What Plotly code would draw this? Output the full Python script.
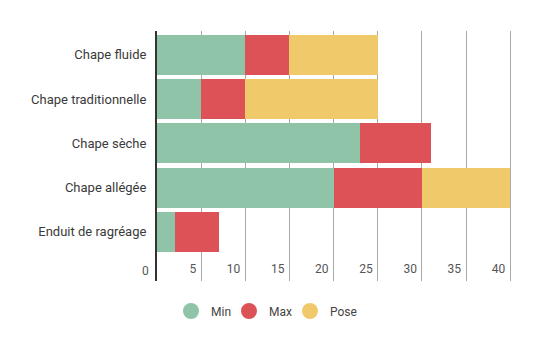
import plotly.graph_objects as go

categories = ["Enduit de ragréage", "Chape allégée", "Chape sèche", "Chape traditionnelle", "Chape fluide"]
min_vals = [2, 20, 23, 5, 10]
max_vals = [5, 10, 8, 5, 5]
pose_vals = [0, 10, 0, 15, 10]
series_names = ["Min", "Max", "Pose"]
colors = ["#8FC4A8", "#DD5257", "#F0CA6A"]
x_ticks = [0, 5, 10, 15, 20, 25, 30, 35, 40]

legend_ids = ["legend", "legend2", "legend3"]
legend_x = [0.0394, 0.2028, 0.3746]

fig = go.Figure()
for name, vals, col in zip(series_names, [min_vals, max_vals, pose_vals], colors):
    fig.add_trace(go.Bar(y=list(range(len(categories))), x=vals, orientation="h", name=name,
                         marker=dict(color=col, line=dict(width=0)), showlegend=False,
                         hoverinfo="x+name"))
for name, col, lg in zip(series_names, colors, legend_ids):
    fig.add_trace(go.Scatter(x=[None], y=[None], mode="markers", name=name, legend=lg,
                             marker=dict(color=col, size=16, symbol="circle")))

# "0" label sits left of the axis line (inside tick labels at the edge get clipped)
fig.add_annotation(x=x_ticks[0], y=0, xref="x", yref="paper", text=str(x_ticks[0]),
                   showarrow=False, xanchor="right", yanchor="bottom", xshift=-6, yshift=1,
                   font=dict(size=12, color="#555"))

legend_common = dict(orientation="h", xanchor="left", y=-0.12, yanchor="middle",
                     bgcolor="rgba(0,0,0,0)",
                     font=dict(size=12, color="#444"), itemwidth=30)
layout_legends = {lg: dict(x=lx, **legend_common) for lg, lx in zip(legend_ids, legend_x)}

fig.update_layout(
    width=550, height=341,
    margin=dict(l=157, r=38, t=31, b=60),
    barmode="stack", bargap=0.1,
    plot_bgcolor="white", paper_bgcolor="white",
    font=dict(family="Roboto", size=12, color="#444"),
    xaxis=dict(range=[0, 40.2], tickvals=x_ticks[1:], ticktext=[str(v) for v in x_ticks[1:]],
               showgrid=True, gridcolor="#aaaaaa", gridwidth=1, zeroline=False,
               ticklabelposition="inside left", ticklabelshift=-5, ticks="", showline=False,
               tickfont=dict(size=12, color="#555")),
    yaxis=dict(range=[-1.11, 4.54], tickvals=list(range(len(categories))), ticktext=categories,
               showgrid=False, zeroline=False, showline=True, linecolor="#333", linewidth=2,
               ticks="", ticklen=0, ticklabelstandoff=6,
               tickfont=dict(size=13, color="#3a3a3a")),
    **layout_legends,
)
fig.write_html("out.html")
